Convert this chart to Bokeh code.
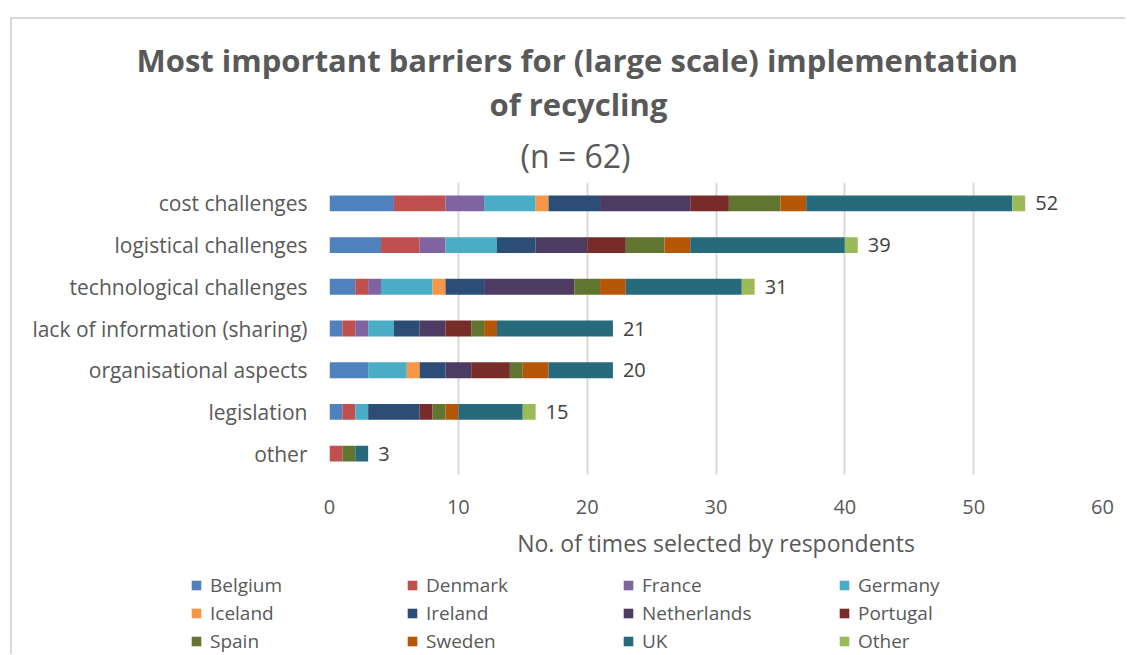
from bokeh.plotting import figure
from bokeh.layouts import column
from bokeh.models import (Range1d, FactorRange, FixedTicker, Legend, LegendItem, Title, ColumnDataSource)
from bokeh.core.properties import value
from bokeh.embed import file_html
from bokeh.resources import INLINE

# ---------------- data ----------------
categories = ["cost challenges", "logistical challenges", "technological challenges",
              "lack of information (sharing)", "organisational aspects", "legislation", "other"]
countries = ["Belgium", "Denmark", "France", "Germany", "Iceland", "Ireland",
             "Netherlands", "Portugal", "Spain", "Sweden", "UK", "Other"]

Belgium = [5, 4, 2, 1, 3, 1, 0]
Denmark = [4, 3, 1, 1, 0, 1, 1]
France = [3, 2, 1, 1, 0, 0, 0]
Germany = [4, 4, 4, 2, 3, 1, 0]
Iceland = [1, 0, 1, 0, 1, 0, 0]
Ireland = [4, 3, 3, 2, 2, 4, 0]
Netherlands = [7, 4, 7, 2, 2, 0, 0]
Portugal = [3, 3, 0, 2, 3, 1, 0]
Spain = [4, 3, 2, 1, 1, 1, 1]
Sweden = [2, 2, 2, 1, 2, 1, 0]
UK = [16, 12, 9, 9, 5, 5, 1]
Other = [1, 1, 1, 0, 0, 1, 0]
total_labels = ["52", "39", "31", "21", "20", "15", "3"]

x_ticks = [0, 10, 20, 30, 40, 50, 60]

colors = ["#4F81BD", "#C0504D", "#8064A2", "#4BACC6", "#F79646", "#2C4D75",
          "#4D3B62", "#772C2A", "#5F7530", "#B65708", "#276A7C", "#9BBB59"]

series = [Belgium, Denmark, France, Germany, Iceland, Ireland,
          Netherlands, Portugal, Spain, Sweden, UK, Other]

FONT = "Open Sans"
GREY = "#595959"

data = {"cat": categories}
for name, vals in zip(countries, series):
    data[name] = vals
bar_ends = [sum(s[i] for s in series) for i in range(len(categories))]
data["end"] = bar_ends
data["lbl"] = total_labels
src = ColumnDataSource(data)

main = figure(output_backend="svg", toolbar_location=None,
              y_range=FactorRange(*reversed(categories)), x_range=Range1d(0, 60),
              frame_width=773, frame_height=292,
              min_border_left=329, min_border_right=23, min_border_bottom=90, min_border_top=182)
main.frame_align = False
main.border_fill_color = None
main.background_fill_color = "white"
main.outline_line_color = None

renderers = main.hbar_stack(countries, y="cat", height=0.38, color=colors, source=src,
                            line_color=None)

main.text(x="end", y="cat", text="lbl", source=src, x_offset=10,
          text_baseline="middle", text_align="left", text_color="#404040",
          text_font=value(FONT), text_font_size="20px")

# axes
main.xaxis.ticker = FixedTicker(ticks=x_ticks)
main.xaxis.axis_line_color = None
main.xaxis.major_tick_line_color = None
main.xaxis.minor_tick_line_color = None
main.xaxis.major_label_text_font = FONT
main.xaxis.major_label_text_font_size = "20px"
main.xaxis.major_label_text_color = GREY
main.xaxis.major_label_standoff = 19
main.xaxis.axis_label = "No. of times selected by respondents"
main.xaxis.axis_label_text_font = FONT
main.xaxis.axis_label_text_font_size = "23px"
main.xaxis.axis_label_text_font_style = "normal"
main.xaxis.axis_label_text_color = GREY
main.xaxis.axis_label_standoff = 10

main.yaxis.axis_line_color = None
main.yaxis.major_tick_line_color = None
main.yaxis.minor_tick_line_color = None
main.yaxis.major_label_text_font = FONT
main.yaxis.major_label_text_font_size = "21px"
main.yaxis.major_label_text_color = GREY
main.yaxis.major_label_standoff = 16

main.xgrid.grid_line_color = "#d9d9d9"
main.xgrid.grid_line_width = 2
main.ygrid.grid_line_color = None

# titles (first added = closest to frame)
main.title = None
t3 = Title(text="(n = 62)", align="left", text_font=FONT, text_font_size="32px",
           text_font_style="normal", text_color=GREY, offset=191, standoff=12)
t2 = Title(text="of recycling", align="left", text_font=FONT, text_font_size="31px",
           text_font_style="bold", text_color=GREY, offset=160, standoff=1)
t1 = Title(text="Most important barriers for (large scale) implementation", align="left",
           text_font=FONT, text_font_size="31px", text_font_style="bold",
           text_color=GREY, offset=-193, standoff=0)
main.add_layout(t3, "above")
main.add_layout(t2, "above")
main.add_layout(t1, "above")

# legend strip (separate canvas below the chart, keyed to the same colours)
leg = figure(output_backend="svg", toolbar_location=None, width=1125, height=90,
             x_range=Range1d(0, 1), y_range=Range1d(0, 1),
             x_axis_type=None, y_axis_type=None,
             min_border=0, min_border_left=0, min_border_right=0,
             min_border_top=0, min_border_bottom=0)
leg.frame_align = False
leg.border_fill_color = None
leg.background_fill_color = None
leg.outline_line_color = None
leg.grid.visible = False
leg.title = None
# key swatches: one off-screen sample per colour so the legend can draw its glyph
key_renderers = [leg.hbar(y=[-5], left=[0], right=[0.1], height=0.5, color=c, line_color=None)
                 for c in colors]
items = [LegendItem(label=c, renderers=[r]) for c, r in zip(countries, key_renderers)]
legend = Legend(items=items, location=(190, 0), orientation="horizontal", ncols=4,
                glyph_width=12, glyph_height=12, label_standoff=8, label_width=194,
                spacing=2, padding=0, margin=0, border_line_color=None,
                background_fill_alpha=0, label_text_font=FONT,
                label_text_font_size="19px", label_text_color=GREY)
leg.add_layout(legend, "center")

p = column(main, leg, spacing=0)
p.styles = {
    "background": "linear-gradient(#d9d9d9,#d9d9d9) 10px 17px / 100% 2px no-repeat, "
                  "linear-gradient(#d9d9d9,#d9d9d9) 10px 17px / 2px 100% no-repeat, white"
}

open("out.html", "w").write(file_html(p, INLINE))
